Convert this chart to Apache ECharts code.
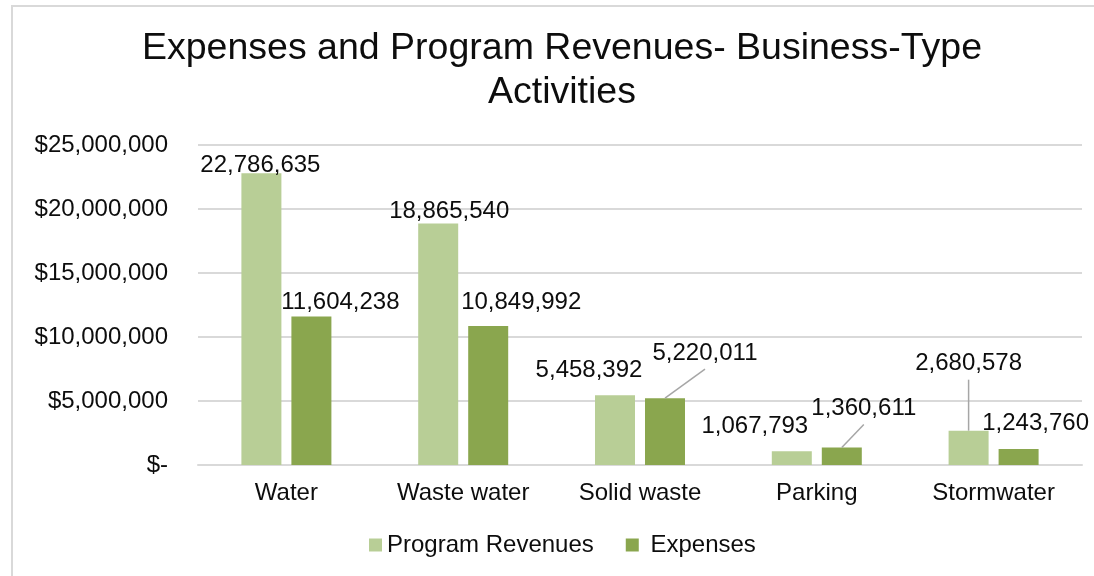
<!DOCTYPE html>
<html>
<head>
<meta charset="utf-8">
<title>Expenses and Program Revenues - Business-Type Activities</title>
<script src="https://cdn.jsdelivr.net/npm/echarts@6/dist/echarts.min.js"></script>
<style>
  html, body { margin: 0; padding: 0; background: #ffffff; }
  #chart { width: 1094px; height: 576px; }
</style>
</head>
<body>
<div id="chart"></div>
<script>
// Business-type activities, fiscal year totals in dollars
const categories = ['Water', 'Waste water', 'Solid waste', 'Parking', 'Stormwater'];
const programRevenues = [22786635, 18865540, 5458392, 1067793, 2680578];
const expenses = [11604238, 10849992, 5220011, 1360611, 1243760];
const yAxisMin = 0;
const yAxisMax = 25000000;
const yAxisStep = 5000000;

// Hand-placed value labels: shift from the default "top" spot, per series
const labelShift = [
  [[-1, 4], [11, 0], [-26, -13], [-37, -13], [0, -55]],
  [[29, -2], [33, -12], [40, -33], [22, -27], [17, -14]]
];
// Labels that sit away from their bar get a leader line
const leader = [
  [false, false, false, false, true],
  [false, false, true, true, false]
];

const FONT = '"Liberation Sans", Arial, sans-serif';
const TEXT = '#0d0d0d';
const GRID = '#d9d9d9';
const BAR_W = 40;
const BAR_STEP = 50; // bar width + gap between the pair

function fmtNum(v) { return Number(v).toLocaleString('en-US'); }

function barSeries(name, values, color, s) {
  return {
    name: name,
    type: 'bar',
    data: values,
    barWidth: BAR_W,
    barGap: '25%',
    itemStyle: { color: color },
    label: {
      show: true,
      position: 'top',
      distance: 0,
      color: TEXT,
      fontFamily: FONT,
      fontSize: 24,
      formatter: p => fmtNum(p.value)
    },
    labelLayout: p => {
      const d = labelShift[s][p.dataIndex];
      return { dx: d[0], dy: d[1] };
    }
  };
}

// Leader lines: from the top centre of a bar to the foot of its moved label
const leaderData = [];
[programRevenues, expenses].forEach((vals, s) => {
  vals.forEach((v, i) => {
    if (leader[s][i]) {
      leaderData.push([i, v, s === 0 ? -1 : 1, labelShift[s][i][0], labelShift[s][i][1]]);
    }
  });
});

const chart = echarts.init(document.getElementById('chart'), null, { renderer: 'canvas' });

chart.setOption({
  animation: false,
  backgroundColor: '#ffffff',
  textStyle: { fontFamily: FONT },
  title: {
    text: 'Expenses and Program Revenues- Business-Type\nActivities',
    left: 562,
    top: 27,
    textAlign: 'center',
    padding: 0,
    textStyle: {
      fontFamily: FONT,
      fontSize: 37.5,
      fontWeight: 'normal',
      color: TEXT,
      lineHeight: 44
    }
  },
  graphic: [
    {
      type: 'polyline',
      shape: { points: [[12, 576], [12, 6], [1094, 6]] },
      style: { stroke: GRID, lineWidth: 2, fill: null },
      silent: true
    }
  ],
  legend: {
    left: 369,
    top: 533,
    itemWidth: 13,
    itemHeight: 13,
    itemGap: 32,
    icon: 'rect',
    padding: 0,
    textStyle: { fontFamily: FONT, fontSize: 24, color: TEXT },
    formatter: n => (n === 'Expenses' ? ' ' + n : n),
    data: ['Program Revenues', 'Expenses']
  },
  grid: { left: 198, right: 12, top: 145, bottom: 111, containLabel: false },
  xAxis: {
    type: 'category',
    data: categories,
    axisLine: { show: true, lineStyle: { color: GRID, width: 2 } },
    axisTick: { show: false },
    axisLabel: { color: TEXT, fontFamily: FONT, fontSize: 24, margin: 16 }
  },
  yAxis: {
    type: 'value',
    min: yAxisMin,
    max: yAxisMax,
    interval: yAxisStep,
    axisLine: { show: false },
    axisTick: { show: false },
    splitLine: { lineStyle: { color: GRID, width: 2 } },
    axisLabel: {
      color: TEXT,
      fontFamily: FONT,
      fontSize: 24,
      margin: 30,
      formatter: v => (v === 0 ? '$-' : '$' + fmtNum(v))
    }
  },
  series: [
    barSeries('Program Revenues', programRevenues, '#b8ce96', 0),
    barSeries('Expenses', expenses, '#8aa64e', 1),
    {
      name: 'leaders',
      type: 'custom',
      silent: true,
      z: 5,
      data: leaderData,
      renderItem: (params, api) => {
        const top = api.coord([api.value(0), api.value(1)]);
        const x0 = top[0] + api.value(2) * BAR_STEP / 2;
        const y0 = top[1];
        const x1 = x0 + api.value(3);
        const y1 = y0 + api.value(4) + 4;
        return {
          type: 'line',
          shape: { x1: x0, y1: y0, x2: x1, y2: y1 },
          style: { stroke: '#a6a6a6', lineWidth: 1.5 }
        };
      }
    }
  ]
});
</script>
</body>
</html>
